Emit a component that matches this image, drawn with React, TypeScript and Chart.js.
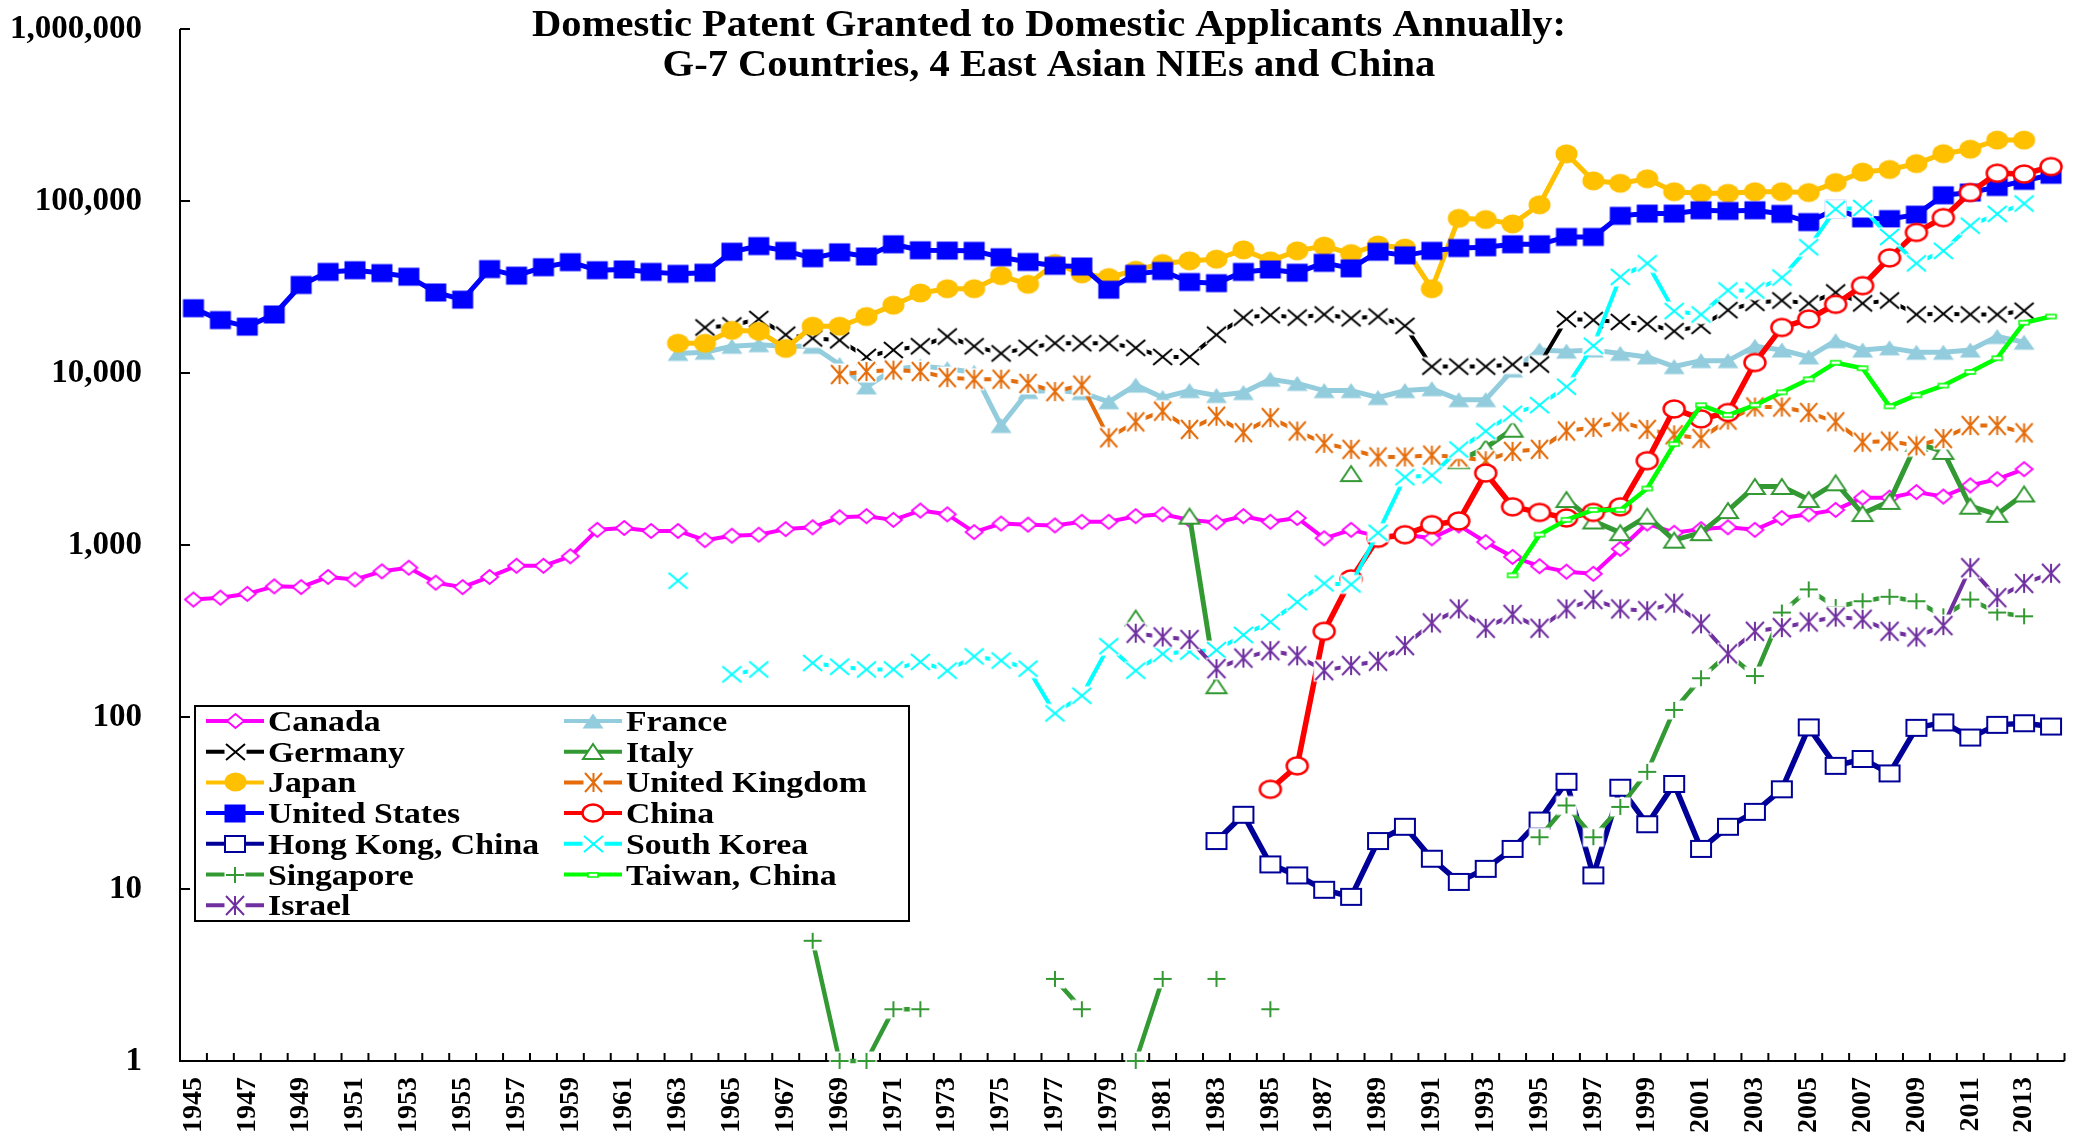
import React, { useEffect, useRef } from 'react';
import { Chart, registerables } from 'chart.js';

Chart.register(...registerables);

const W = 2080;
const H = 1147;
const FONT = '"Liberation Serif", "Times New Roman", Times, serif';

// ---------- categories & ticks ----------
const years: string[] = Array.from({ length: 70 }, (_, i) => String(1945 + i));
const yTicks = [1, 10, 100, 1000, 10000, 100000, 1000000];
const titleLines = [
  'Domestic Patent Granted to Domestic Applicants Annually:',
  'G-7 Countries, 4 East Asian NIEs and China',
];

// ---------- series values (each starts at its own first year) ----------
const canadaStart = 1945;
const canada = [
  482, 494, 520, 575, 569, 652, 630, 703, 738, 604,
  569, 652, 757, 757, 860, 1225, 1256, 1207, 1207, 1067,
  1132, 1148, 1237, 1268, 1449, 1471, 1400, 1585, 1508, 1189,
  1333, 1313, 1300, 1365, 1365, 1471, 1508, 1400, 1352, 1471,
  1365, 1436, 1094, 1225, 1122, 1148, 1094, 1300, 1040, 853,
  753, 700, 680, 950, 1333, 1178, 1237, 1268, 1225, 1436,
  1508, 1600, 1884, 1884, 2030, 1914, 2220, 2414, 2760,
];

const franceStart = 1963;
const france = [
  13000, 13200, 14300, 14600, 14300, 14300, 11200, 8300, 10500, 11000,
  10600, 10100, 4950, 7800, 7900, 7700, 6800, 8500, 7200, 7900,
  7400, 7700, 9200, 8700, 7900, 7900, 7200, 7900, 8100, 7000,
  7000, 10400, 13600, 13400, 13600, 13000, 12400, 10900, 11800, 11800,
  14300, 13600, 12400, 15400, 13600, 14000, 13200, 13200, 13600, 16300, 15100,
];

const germanyStart = 1964;
const germany = [
  18400, 18900, 20600, 16700, 15900, 15500, 12400, 13600, 14300, 16300,
  14300, 13000, 14000, 14900, 14900, 14900, 14000, 12400, 12400, 16700,
  21000, 21700, 21000, 21900, 20800, 21300, 18800, 10900, 10900, 10900,
  11200, 11200, 20600, 20300, 19800, 19300, 17500, 18800, 23200, 25600,
  26400, 25400, 29400, 25400, 26400, 21900, 22100, 21900, 21900, 23000,
];

const italyStart = 1980;
const italy = [
  376, null, 1471, 152, null, null, null, null, 2600, null,
  null, null, 3090, 3680, 4710, null, 1838, 1380, 1180, 1471,
  1067, 1180, 1585, 2190, 2190, 1838, 2300, 1524, 1793, 3900,
  3500, 1680, 1508, 1980,
];

const japanStart = 1963;
const japan = [
  14900, 14900, 17700, 17500, 13900, 18700, 18700, 21300, 24800, 29200,
  30900, 30900, 36800, 32800, 43300, 37700, 35900, 39600, 43300, 44900,
  45900, 52000, 44900, 51300, 54700, 49500, 55500, 53300, 30900, 79300,
  78000, 73600, 95100, 188000, 131000, 126800, 134600, 113200, 110900, 110900,
  113200, 113200, 112000, 128000, 147300, 152500, 165000, 188400, 200000, 226000, 226000,
];

const ukStart = 1969;
const uk = [
  9800, 10200, 10400, 10200, 9400, 9200, 9200, 8700, 7800, 8500,
  4200, 5200, 6000, 4700, 5600, 4500, 5500, 4600, 3900, 3600,
  3250, 3250, 3330, 3250, 3090, 3500, 3600, 4600, 4830, 5200,
  4700, 4370, 4160, 5330, 6340, 6340, 5890, 5200, 3960, 4020,
  3770, 4160, 4950, 4950, 4490,
];

const usStart = 1945;
const us = [
  23800, 20300, 18600, 21900, 32500, 38700, 39600, 38100, 36300, 29400,
  26700, 40200, 36800, 41200, 44100, 39600, 40000, 38700, 37700, 38300,
  50700, 54700, 51300, 46500, 50300, 47600, 56000, 51700, 51500, 51300,
  47100, 44200, 42000, 41600, 30500, 37700, 39200, 33800, 33300, 38700,
  40000, 38300, 43700, 40600, 50700, 48300, 51300, 53300, 53800, 56000,
  56000, 61800, 61800, 82000, 84500, 84500, 88300, 87500, 88300, 84100,
  75400, 89700, 79300, 78500, 83300, 108000, 112000, 120700, 131000, 142000,
];

const chinaStart = 1985;
const china = [
  38, 52, 315, 635, 1094, 1148, 1313, 1380, 2620, 1667,
  1547, 1436, 1547, 1667, 3090, 6180, 5410, 5890, 11500, 18400,
  20600, 25100, 32200, 46700, 65700, 80000, 112000, 145000, 143500, 158500,
];

const hongKongStart = 1983;
const hongKong = [
  19, 27, 13.9, 12, 9.9, 9, 19, 23, 15, 11,
  13.1, 17.1, 25, 42, 12, 38.8, 23.8, 40.8, 17.1, 23,
  28.1, 38, 87, 52, 57, 47, 86.5, 93, 76, 90, 92, 88,
];

const southKoreaStart = 1963;
const southKorea = [
  620, null, 177, 189, null, 206, 196, 189, 189, 209,
  186, 225, 213, 191, 105, 133, 258, 186, 233, 240,
  245, 300, 357, 466, 598, 590, 1178, 2480, 2540, 3590,
  4590, 5800, 6500, 8320, 14400, 36200, 43400, 22900, 21900, 30200,
  30200, 35900, 53800, 89700, 91000, 61800, 43400, 51300, 71800, 84100, 96700,
];

const singaporeStart = 1968;
const singapore = [
  5, 1, 1, 2, 2, null, null, null, null, 3,
  2, null, 1, 3, null, 3, null, 2, null, null,
  null, null, null, null, null, null, null, 20, 30.6, 20,
  30, 48, 110, 168, 233, 173, 405, 552, 436, 471,
  500, 471, 385, 482, 405, 385,
];

const taiwanStart = 1994;
const taiwan = [
  667, 1148, 1400, 1600, 1600, 2130, 3860, 6500, 5690, 6500,
  7720, 9190, 11480, 10660, 6400, 7430, 8450, 10140, 12190, 19600, 21300,
];

const israelStart = 1980;
const israel = [
  307, 292, 282, 191, 220, 243, 227, 186, 199, 211,
  260, 352, 425, 328, 395, 328, 425, 482, 425, 415,
  459, 348, 233, 315, 331, 357, 381, 370, 315, 292,
  340, 738, 494, 598, 685,
];

const pad = (start: number, vals: (number | null)[]) =>
  years.map((y) => {
    const i = Number(y) - start;
    return i >= 0 && i < vals.length ? vals[i] : null;
  });

// ---------- styles ----------
type Spec = {
  label: string;
  data: (number | null)[];
  color: string;
  lw: number;
  marker: [string, number, number, number, boolean]; // kind, w, h, lineWidth, filled
};

const specs: Spec[] = [
  { label: 'Canada', data: pad(canadaStart, canada), color: '#FF00FF', lw: 4, marker: ['diamond', 17, 14, 1.8, false] },
  { label: 'France', data: pad(franceStart, france), color: '#93CDDD', lw: 5, marker: ['triangle', 21, 15, 1, true] },
  { label: 'Germany', data: pad(germanyStart, germany), color: '#000000', lw: 4, marker: ['x', 19, 16, 2, false] },
  { label: 'Italy', data: pad(italyStart, italy), color: '#339933', lw: 5, marker: ['triangle', 20, 15, 2, false] },
  { label: 'Japan', data: pad(japanStart, japan), color: '#FFC000', lw: 5, marker: ['ellipse', 22, 19, 1, true] },
  { label: 'United Kingdom', data: pad(ukStart, uk), color: '#E46C0A', lw: 4, marker: ['star', 17, 19, 2, false] },
  { label: 'United States', data: pad(usStart, us), color: '#0000FF', lw: 5, marker: ['square', 21, 18, 1, true] },
  { label: 'China', data: pad(chinaStart, china), color: '#FF0000', lw: 5.5, marker: ['ellipse', 21, 17, 2.5, false] },
  { label: 'Hong Kong, China', data: pad(hongKongStart, hongKong), color: '#000099', lw: 5.5, marker: ['square', 20, 16, 2, false] },
  { label: 'South Korea', data: pad(southKoreaStart, southKorea), color: '#00FFFF', lw: 4, marker: ['x', 19, 16, 2, false] },
  { label: 'Singapore', data: pad(singaporeStart, singapore), color: '#339933', lw: 4.5, marker: ['plus', 18, 16, 2, false] },
  { label: 'Taiwan, China', data: pad(taiwanStart, taiwan), color: '#00FF00', lw: 4.5, marker: ['dash', 10, 4, 1.5, false] },
  { label: 'Israel', data: pad(israelStart, israel), color: '#7030A0', lw: 4, marker: ['star', 18, 19, 2, false] },
];

function makeMarker(kind: string, color: string, w: number, h: number, lw: number, filled: boolean) {
  const c = document.createElement('canvas');
  const cw = Math.round(w + lw + 6);
  const ch = Math.round(h + lw + 6);
  c.width = cw;
  c.height = ch;
  const g = c.getContext('2d') as CanvasRenderingContext2D;
  const cx = cw / 2;
  const cy = ch / 2;
  const a = w / 2;
  const b = h / 2;
  g.lineWidth = lw;
  g.strokeStyle = color;
  g.fillStyle = filled ? color : '#ffffff';
  g.lineJoin = 'miter';
  const finish = () => {
    g.fill();
    if (!filled) g.stroke();
  };
  g.beginPath();
  switch (kind) {
    case 'square':
      g.rect(cx - a, cy - b, w, h);
      finish();
      break;
    case 'ellipse':
      g.ellipse(cx, cy, a, b, 0, 0, Math.PI * 2);
      finish();
      break;
    case 'diamond':
      g.moveTo(cx - a, cy);
      g.lineTo(cx, cy - b);
      g.lineTo(cx + a, cy);
      g.lineTo(cx, cy + b);
      g.closePath();
      finish();
      break;
    case 'triangle':
      g.moveTo(cx, cy - b);
      g.lineTo(cx + a, cy + b);
      g.lineTo(cx - a, cy + b);
      g.closePath();
      finish();
      break;
    case 'dash':
      g.rect(cx - a, cy - b, w, h);
      g.fillStyle = '#ffffff';
      g.fill();
      g.stroke();
      break;
    default: {
      g.fillStyle = '#ffffff';
      g.fillRect(cx - a - 1.5, cy - b - 1.5, w + 3, h + 3);
      g.beginPath();
      if (kind === 'x' || kind === 'star') {
        g.moveTo(cx - a, cy - b);
        g.lineTo(cx + a, cy + b);
        g.moveTo(cx - a, cy + b);
        g.lineTo(cx + a, cy - b);
      }
      if (kind === 'star') {
        g.moveTo(cx, cy - b);
        g.lineTo(cx, cy + b);
      }
      if (kind === 'plus') {
        g.moveTo(cx - a, cy);
        g.lineTo(cx + a, cy);
        g.moveTo(cx, cy - b);
        g.lineTo(cx, cy + b);
      }
      g.stroke();
    }
  }
  return c;
}

function drawText(
  ctx: CanvasRenderingContext2D,
  text: string,
  x: number,
  y: number,
  font: string,
  align: CanvasTextAlign,
  sx: number,
) {
  ctx.save();
  ctx.font = font;
  ctx.textAlign = align;
  ctx.textBaseline = 'alphabetic';
  ctx.fillStyle = '#000000';
  ctx.translate(x, y);
  ctx.scale(sx, 1);
  ctx.fillText(text, 0, 0);
  ctx.restore();
}

export default function App() {
  const ref = useRef<HTMLCanvasElement | null>(null);

  useEffect(() => {
    const canvas = ref.current;
    if (!canvas) return;
    const markers = specs.map((s) => makeMarker(s.marker[0], s.color, s.marker[1], s.marker[2], s.marker[3], s.marker[4]));

    const decor = {
      id: 'decor',
      beforeDatasetsDraw(chart: any) {
        const { ctx, chartArea: ca } = chart;
        ctx.save();
        ctx.strokeStyle = '#000000';
        ctx.lineWidth = 2;
        ctx.beginPath();
        ctx.moveTo(ca.left, ca.top);
        ctx.lineTo(ca.left, ca.bottom);
        ctx.lineTo(ca.right, ca.bottom);
        const ys = chart.scales.y;
        for (const v of yTicks) {
          const y = ys.getPixelForValue(v);
          ctx.moveTo(ca.left, y);
          ctx.lineTo(ca.left + 10, y);
        }
        const n = years.length;
        const band = (ca.right - ca.left) / n;
        for (let i = 1; i <= n; i++) {
          const x = ca.left + i * band;
          ctx.moveTo(x, ca.bottom);
          ctx.lineTo(x, ca.bottom - 8);
        }
        ctx.stroke();
        ctx.restore();
      },
      afterDraw(chart: any) {
        const ctx: CanvasRenderingContext2D = chart.ctx;
        // title
        drawText(ctx, titleLines[0], 1049, 36, `bold 38px ${FONT}`, 'center', 1.067);
        drawText(ctx, titleLines[1], 1049, 76, `bold 38px ${FONT}`, 'center', 1.067);
        // legend
        ctx.save();
        ctx.fillStyle = '#ffffff';
        ctx.fillRect(195, 706, 714, 215);
        ctx.strokeStyle = '#000000';
        ctx.lineWidth = 2;
        ctx.strokeRect(195, 706, 714, 215);
        ctx.restore();
        specs.forEach((s, i) => {
          const row = Math.floor(i / 2);
          const col = i % 2;
          const x0 = col === 0 ? 206 : 564;
          const y = 721 + row * 30.7;
          ctx.save();
          ctx.strokeStyle = s.color;
          ctx.lineWidth = 4;
          ctx.beginPath();
          ctx.moveTo(x0, y);
          ctx.lineTo(x0 + 58, y);
          ctx.stroke();
          const m = markers[i];
          ctx.drawImage(m, Math.round(x0 + 29 - m.width / 2), Math.round(y - m.height / 2));
          ctx.restore();
          drawText(ctx, s.label, x0 + 62, y + 10, `bold 30px ${FONT}`, 'left', 1.125);
        });
      },
    };

    const chart = new Chart(canvas, {
      type: 'line',
      data: {
        labels: years,
        datasets: specs.map((s, i) => ({
          label: s.label,
          data: s.data,
          borderColor: s.color,
          backgroundColor: s.color,
          borderWidth: s.lw,
          borderJoinStyle: 'round',
          pointStyle: markers[i],
          pointRadius: 10,
          pointHoverRadius: 10,
          spanGaps: false,
          tension: 0,
          fill: false,
          clip: false,
          order: -i,
        })),
      } as any,
      options: {
        responsive: false,
        animation: false,
        devicePixelRatio: 1,
        events: [],
        layout: { padding: { left: 0, right: 6, top: 29, bottom: 0 } },
        plugins: {
          legend: { display: false },
          tooltip: { enabled: false },
          title: { display: false },
        },
        scales: {
          x: {
            type: 'category',
            offset: true,
            grid: { display: false, drawTicks: false },
            border: { display: false },
            ticks: {
              autoSkip: false,
              maxRotation: 90,
              minRotation: 90,
              padding: 16,
              color: '#000000',
              font: { family: FONT, size: 28, weight: 'bold' },
              callback: (_v: any, i: number) => (i % 2 === 0 ? years[i] : ''),
            },
            afterFit: (s: any) => {
              s.height = 86;
              s.paddingLeft = 0;
              s.paddingRight = 0;
            },
          },
          y: {
            type: 'logarithmic',
            min: 1,
            max: 1000000,
            grid: { display: false, drawTicks: false },
            border: { display: false },
            ticks: {
              padding: 38,
              color: '#000000',
              font: { family: FONT, size: 33, weight: 'bold' },
              callback: (v: any) => Number(v).toLocaleString('en-US'),
            },
            afterBuildTicks: (s: any) => {
              s.ticks = yTicks.map((v) => ({ value: v }));
            },
            afterFit: (s: any) => {
              s.width = 180;
              s.paddingTop = 0;
              s.paddingBottom = 0;
            },
          },
        },
      } as any,
      plugins: [decor],
    });

    return () => chart.destroy();
  }, []);

  return (
    <div style={{ position: 'absolute', left: 0, top: 0, width: W, height: H, background: '#ffffff' }}>
      <canvas ref={ref} width={W} height={H} style={{ width: W, height: H, display: 'block' }} />
    </div>
  );
}
